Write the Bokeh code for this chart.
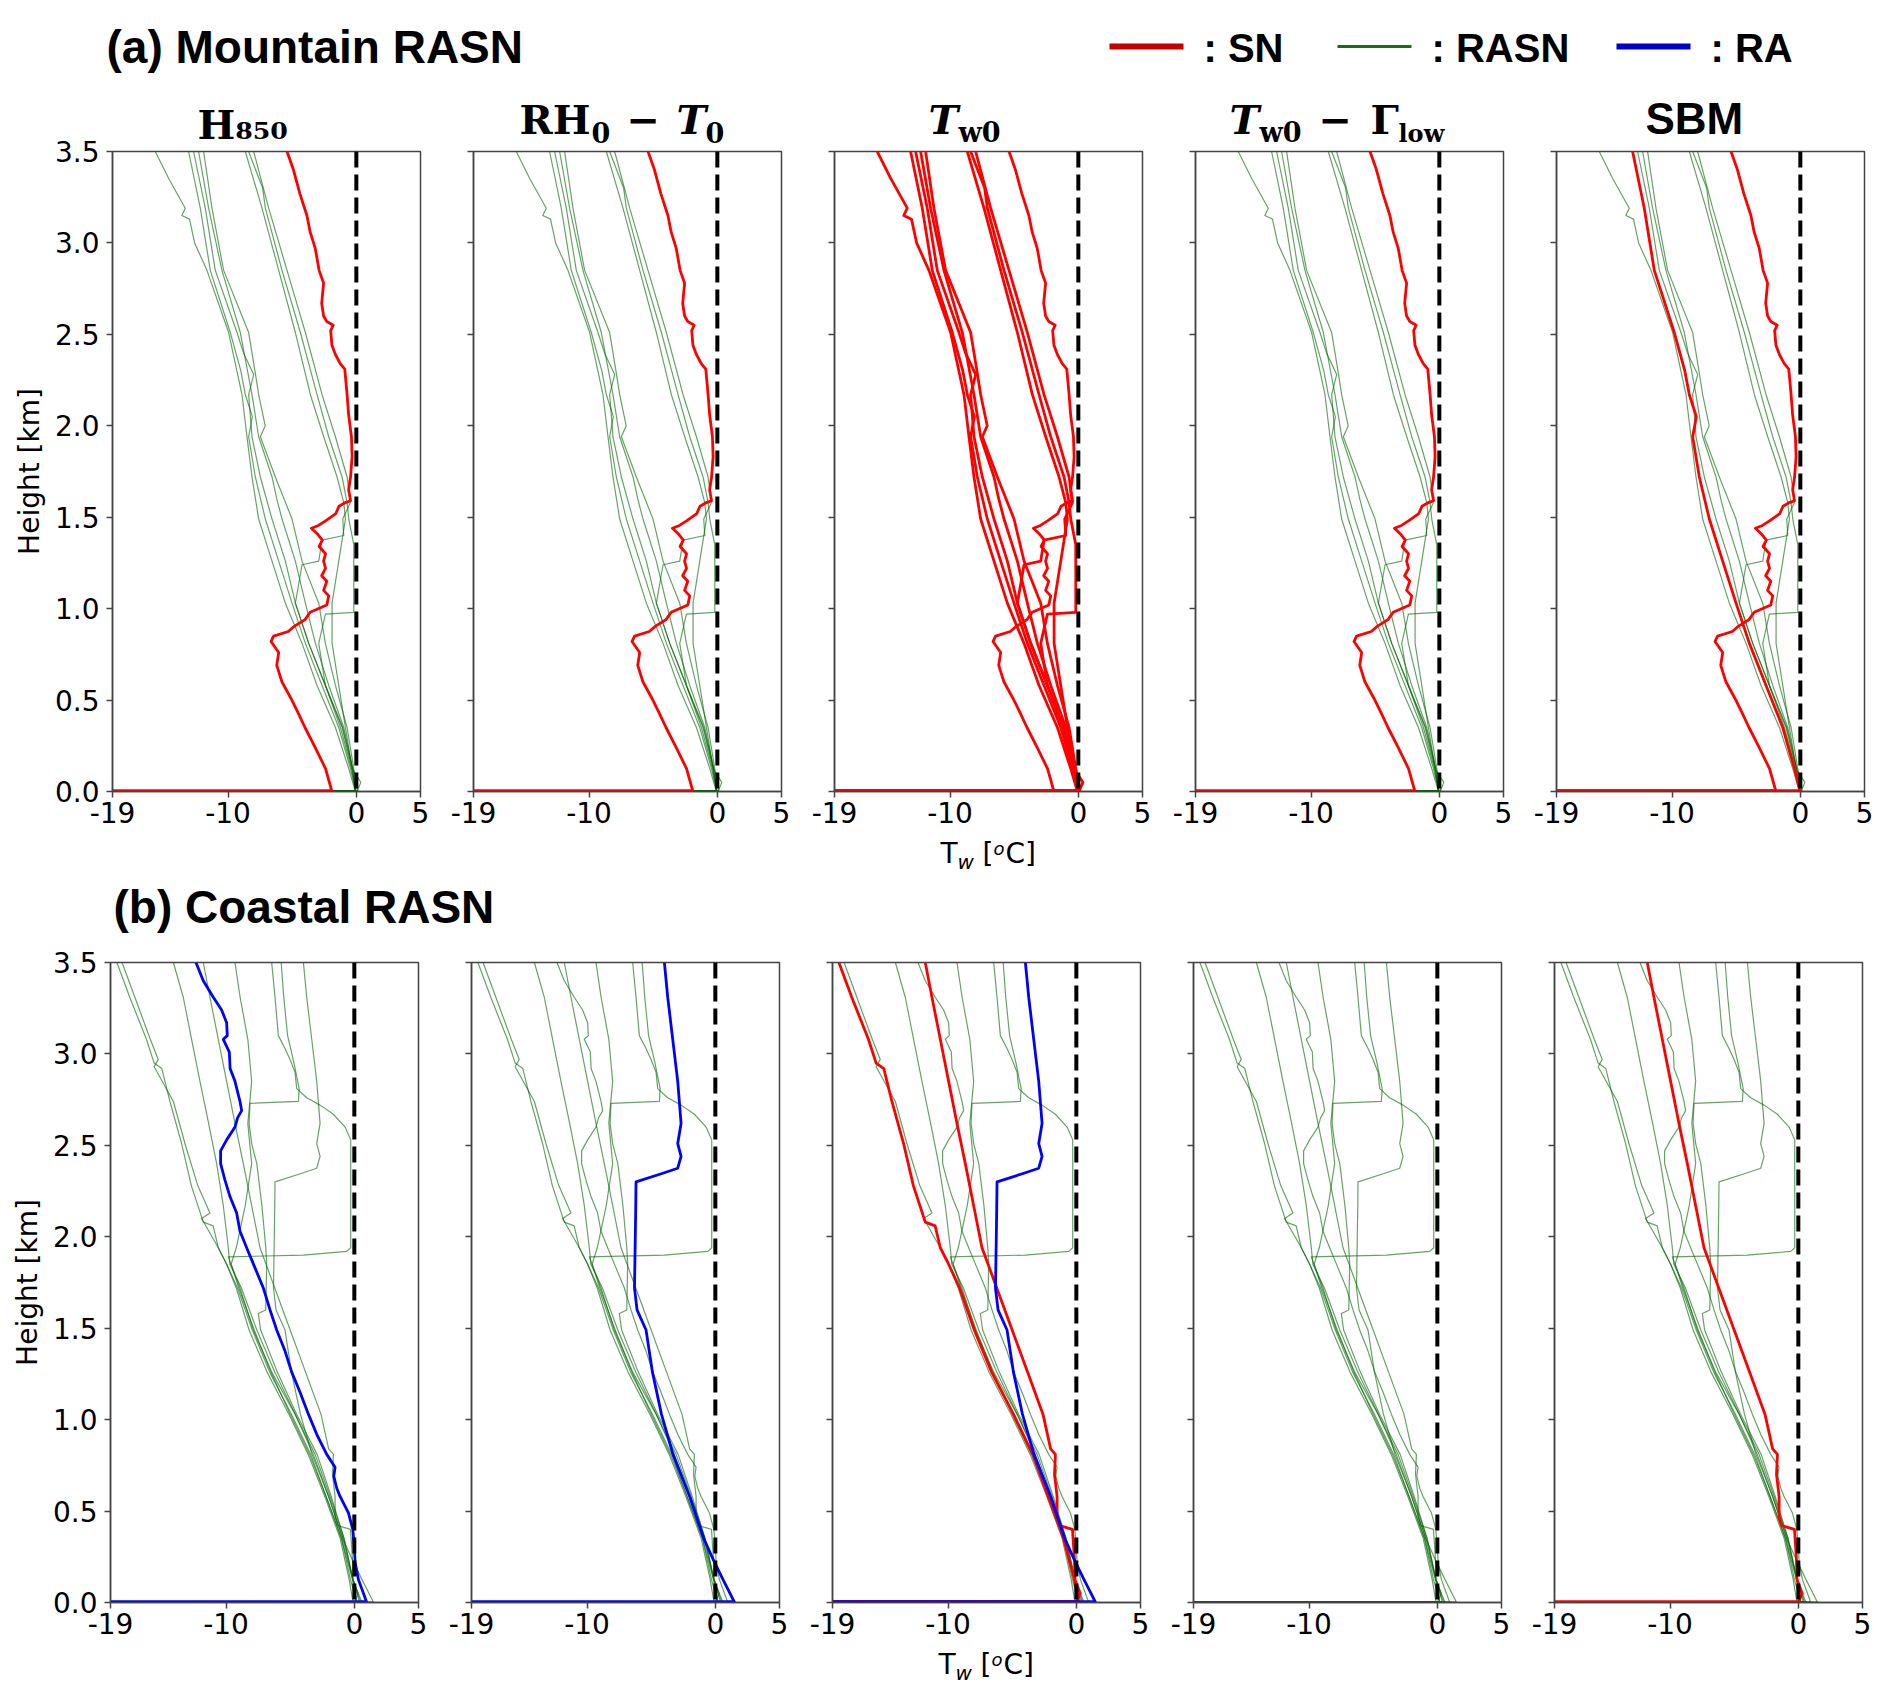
from bokeh.core.properties import value
from bokeh.embed import file_html
from bokeh.layouts import column, row
from bokeh.models import FixedTicker, PrintfTickFormatter, Range1d, Span
from bokeh.plotting import figure
from bokeh.resources import INLINE

# axes
X_LIMITS = (-19, 5)
Y_LIMITS = (0, 3.5)
X_TICKS = [-19, -10, 0, 5]
X_TICK_LABELS = ["-19", "-10", "0", "5"]
Y_TICKS = [0.0, 0.5, 1.0, 1.5, 2.0, 2.5, 3.0, 3.5]
Y_TICK_LABELS = ["0.0", "0.5", "1.0", "1.5", "2.0", "2.5", "3.0", "3.5"]
Y_LABEL = "Height [km]"
FREEZING_LINE = 0

ROW_TITLES = ["(a) Mountain RASN", "(b) Coastal RASN"]
LEGEND_CLASSES = ["SN", "RASN", "RA"]
LEGEND_LABELS = [": SN", ": RASN", ": RA"]
H850_TITLE = "H\u2088\u2085\u2080"

# ---- mountain RASN cases (wet-bulb T in degC, height in km, surface first) ----
MTN_L1_Z = [0, 0.125, 0.35, 0.58, 0.81, 1.03, 1.26, 1.49, 1.72, 1.94, 2.17, 2.51, 2.85, 3.0, 3.13, 3.15, 3.19, 3.35, 3.5]
MTN_L1_T = [-0.07, -0.59, -1.63, -3.06, -4.23, -5.53, -6.57, -7.61, -8.13, -8.52, -8.91, -9.95, -11.64, -12.6, -13.0, -13.6, -13.33, -14.6, -15.67]
MTN_L2_Z = [0, 0.125, 0.35, 0.58, 0.81, 1.03, 1.26, 1.49, 1.72, 1.94, 2.05, 2.17, 2.3, 2.51, 2.85, 3.19, 3.5]
MTN_L2_T = [-0.02, -0.46, -1.37, -2.67, -3.97, -5.01, -6.05, -7.09, -7.87, -8.39, -8.1, -8.65, -9.0, -9.82, -11.38, -12.16, -13.07]
MTN_L3_Z = [0, 0.05, 0.125, 0.35, 0.58, 0.81, 1.03, 1.26, 1.49, 1.72, 1.94, 2.17, 2.28, 2.4, 2.51, 2.85, 3.19, 3.5]
MTN_L3_T = [0.06, 0.35, -0.33, -1.11, -2.41, -3.71, -4.75, -5.53, -6.57, -7.48, -8.13, -8.39, -8.0, -8.8, -9.3, -10.99, -11.77, -12.68]
MTN_L4_Z = [0, 0.125, 0.35, 0.58, 0.81, 1.03, 1.26, 1.49, 1.6, 1.72, 1.94, 2.17, 2.51, 2.85, 3.19, 3.5]
MTN_L4_T = [-0.07, -0.28, -0.98, -2.15, -3.19, -3.97, -4.75, -5.79, -6.2, -6.57, -7.61, -8.13, -9.04, -10.47, -11.51, -12.29]
MTN_L5_Z = [0, 0.125, 0.35, 0.58, 0.81, 1.03, 1.26, 1.49, 1.72, 1.94, 2.0, 2.17, 2.3, 2.51, 2.85, 3.19, 3.5]
MTN_L5_T = [0.13, -0.2, -0.72, -1.63, -2.41, -2.93, -4.23, -5.01, -6.31, -7.48, -7.1, -7.61, -7.9, -8.39, -10.34, -11.25, -11.9]
MTN_R1_Z = [0, 0.125, 0.35, 0.58, 0.81, 1.03, 1.26, 1.49, 1.58, 1.72, 1.94, 2.17, 2.51, 2.85, 3.19, 3.5]
MTN_R1_T = [-0.02, -0.33, -0.85, -1.37, -1.89, -1.89, -1.37, -0.85, -0.98, -1.5, -2.54, -3.58, -4.75, -6.05, -7.35, -8.65]
MTN_R2_Z = [0, 0.125, 0.35, 0.58, 0.81, 0.97, 0.98, 1.35, 1.49, 1.58, 1.72, 1.94, 2.17, 2.51, 2.85, 3.19, 3.3, 3.5]
MTN_R2_T = [-0.07, -0.38, -1.24, -2.41, -2.93, -2.41, -0.2, -0.2, -0.59, -0.72, -1.11, -2.15, -3.06, -4.36, -5.79, -7.09, -7.3, -8.39]
MTN_R3_Z = [0, 0.125, 0.35, 0.58, 0.81, 1.03, 1.24, 1.26, 1.375, 1.40, 1.49, 1.58, 1.72, 1.94, 2.17, 2.51, 2.85, 3.19, 3.5]
MTN_R3_T = [-0.07, -0.28, -1.06, -2.41, -3.71, -4.75, -4.23, -2.93, -2.67, -0.98, -1.06, -0.46, -0.72, -1.63, -2.67, -3.97, -5.4, -6.83, -8.0]
MTN_S_Z = [0, 0.125, 0.24, 0.35, 0.44, 0.51, 0.60, 0.69, 0.76, 0.82, 0.85, 0.875, 0.90, 0.94, 0.98, 1.02, 1.07,
           1.10, 1.15, 1.18, 1.22, 1.26, 1.30, 1.34, 1.375, 1.41, 1.44, 1.455, 1.48, 1.52, 1.56, 1.58, 1.59, 1.65,
           1.72, 1.83, 1.94, 2.06, 2.17, 2.31, 2.34, 2.39, 2.44, 2.52, 2.55, 2.57, 2.60, 2.67, 2.78, 2.85, 2.97,
           3.06, 3.15, 3.27, 3.40, 3.50]
MTN_S_T = [-1.9, -2.4, -3.2, -4.0, -4.6, -5.1, -5.8, -6.2, -6.05, -6.65, -6.45, -5.3, -4.9, -4.0, -3.6, -2.3, -2.15,
           -2.55, -2.3, -2.7, -2.4, -2.55, -2.4, -2.9, -2.65, -3.05, -3.5, -2.95, -2.4, -1.6, -1.35, -0.85, -0.45, -0.6,
           -0.45, -0.33, -0.38, -0.6, -0.72, -0.9, -1.25, -1.63, -1.9, -2.0, -1.8, -2.3, -2.55, -2.7, -2.55, -2.9, -3.2,
           -3.6, -3.85, -4.4, -4.9, -5.4]

MTN_PROFILES = [(MTN_L1_T, MTN_L1_Z), (MTN_L2_T, MTN_L2_Z), (MTN_L3_T, MTN_L3_Z), (MTN_L4_T, MTN_L4_Z),
                (MTN_L5_T, MTN_L5_Z), (MTN_R1_T, MTN_R1_Z), (MTN_R2_T, MTN_R2_Z), (MTN_R3_T, MTN_R3_Z),
                (MTN_S_T, MTN_S_Z)]

# class given by each method (same profile order as above)
MTN_H850 = ["RASN", "RASN", "RASN", "RASN", "RASN", "RASN", "RASN", "RASN", "SN"]
MTN_RH0T0 = ["RASN", "RASN", "RASN", "RASN", "RASN", "RASN", "RASN", "RASN", "SN"]
MTN_TW0 = ["SN", "SN", "SN", "SN", "SN", "SN", "SN", "SN", "SN"]
MTN_TW0GL = ["RASN", "RASN", "RASN", "RASN", "RASN", "RASN", "RASN", "RASN", "SN"]
MTN_SBM = ["RASN", "SN", "RASN", "RASN", "RASN", "RASN", "RASN", "RASN", "SN"]
MTN_CLASSES = [MTN_H850, MTN_RH0T0, MTN_TW0, MTN_TW0GL, MTN_SBM]

# ---- coastal RASN cases ----
CST_C1_Z = [0, 0.125, 0.35, 0.58, 0.81, 1.03, 1.26, 1.49, 1.72, 1.85, 1.94, 2.06, 2.08, 2.28, 2.51, 2.74, 2.92, 2.95, 3.08, 3.31, 3.5]
CST_C1_T = [0.2, -0.15, -1.0, -2.2, -3.4, -4.9, -6.6, -7.95, -9.1, -9.95, -10.6, -11.0, -11.77, -12.7, -13.46, -14.37, -15.0, -15.6, -16.2, -17.5, -18.5]
CST_C2_Z = [0, 0.125, 0.35, 0.58, 0.81, 1.03, 1.26, 1.49, 1.72, 1.85, 1.94, 2.10, 2.13, 2.28, 2.51, 2.74, 2.93, 2.97, 3.08, 3.31, 3.5]
CST_C2_T = [-0.1, -0.4, -1.1, -2.3, -3.6, -5.1, -6.8, -8.2, -9.2, -9.95, -10.6, -11.9, -11.25, -12.2, -13.2, -14.1, -15.6, -15.28, -15.9, -17.1, -18.1]
CST_C3_Z = [0, 0.125, 0.35, 0.58, 0.81, 1.03, 1.26, 1.49, 1.72, 1.85, 1.94, 2.17, 2.4, 2.63, 2.85, 3.08, 3.31, 3.5]
CST_C3_T = [0.5, -0.1, -0.9, -2.0, -3.2, -4.6, -6.2, -7.6, -8.8, -9.7, -9.82, -10.21, -10.73, -11.38, -12.03, -12.68, -13.33, -14.1]
CST_C4_Z = [0, 0.05, 0.125, 0.24, 0.40, 0.42, 0.47, 0.58, 0.70, 0.81, 0.84, 1.03, 1.26, 1.49, 1.72, 1.94, 2.17, 2.4, 2.62, 2.85, 3.08, 3.31, 3.5]
CST_C4_T = [0.0, 0.3, -0.1, -0.15, -0.3, -1.3, -1.5, -1.5, -1.7, -1.63, -2.0, -2.6, -3.8, -5.0, -6.2, -7.35, -8.0, -8.65, -9.3, -9.95, -10.6, -11.25, -11.77]
CST_C5_Z = [0, 0.125, 0.35, 0.58, 0.81, 1.03, 1.26, 1.49, 1.72, 1.85, 1.94, 2.17, 2.4, 2.62, 2.85, 3.08, 3.31, 3.5]
CST_C5_T = [0.2, -0.3, -1.0, -2.2, -3.5, -5.0, -6.5, -7.8, -9.0, -9.6, -9.2, -8.5, -8.0, -8.3, -8.0, -8.3, -8.9, -9.3]
CST_P_Z = [0, 0.125, 0.35, 0.58, 0.81, 1.03, 1.26, 1.49, 1.72, 1.89, 1.90, 1.92, 1.94, 2.53, 2.60, 2.67, 2.72, 2.76, 2.81, 2.90, 2.97, 3.03, 3.10, 3.31, 3.5]
CST_P_T = [0.6, -0.12, -0.8, -1.89, -3.06, -4.62, -6.44, -7.87, -8.91, -9.82, -3.97, -0.59, -0.28, -0.28, -0.72, -1.63, -2.67, -3.71, -4.49, -4.62, -5.01, -5.4, -5.92, -6.18, -6.44]
CST_R_Z = [0, 0.125, 0.35, 0.58, 0.81, 1.03, 1.26, 1.49, 1.58, 1.60, 1.85, 1.94, 2.17, 2.40, 2.51, 2.62, 2.73, 2.74, 2.81, 2.95, 3.10, 3.31, 3.5]
CST_R_T = [0.4, -0.1, -0.8, -1.8, -2.9, -4.5, -6.0, -7.3, -7.48, -6.9, -6.83, -6.9, -7.2, -7.6, -8.0, -8.2, -8.13, -4.36, -4.3, -4.7, -5.2, -5.5, -5.7]
CST_Q_Z = [0, 0.125, 0.24, 0.35, 0.58, 0.81, 1.03, 1.26, 1.49, 1.6, 1.72, 1.94, 2.17, 2.30, 2.35, 2.375, 2.44, 2.51, 2.62, 2.85, 3.08, 3.31, 3.5]
CST_Q_T = [1.5, 0.6, -0.2, -0.9, -2.0, -3.3, -4.2, -4.9, -5.4, -6.1, -6.3, -6.25, -6.2, -6.18, -3.97, -2.93, -2.67, -2.93, -2.67, -2.93, -3.32, -3.71, -3.97]
CST_B_Z = [0, 0.125, 0.22, 0.31, 0.40, 0.49, 0.58, 0.625, 0.69, 0.74, 0.81, 0.92, 1.03, 1.15, 1.26, 1.375, 1.49, 1.60,
           1.72, 1.83, 1.94, 2.03, 2.13, 2.22, 2.31, 2.40, 2.47, 2.53, 2.60, 2.65, 2.69, 2.74, 2.85, 2.92, 3.01, 3.08,
           3.10, 3.17, 3.24, 3.31, 3.40, 3.50]
CST_B_T = [0.97, 0.32, 0.06, 0.0, -0.12, -0.46, -1.11, -1.37, -1.6, -1.5, -2.15, -2.93, -3.58, -4.23, -4.88, -5.4, -6.05,
           -6.57, -7.09, -7.74, -8.39, -8.91, -9.17, -9.69, -10.08, -10.42, -10.42, -9.95, -9.3, -9.1, -8.78, -8.91, -9.3,
           -9.68, -9.74, -10.21, -9.9, -9.95, -10.34, -10.99, -11.77, -12.34]

CST_PROFILES = [(CST_C1_T, CST_C1_Z), (CST_C2_T, CST_C2_Z), (CST_C3_T, CST_C3_Z), (CST_C4_T, CST_C4_Z),
                (CST_C5_T, CST_C5_Z), (CST_P_T, CST_P_Z), (CST_R_T, CST_R_Z), (CST_Q_T, CST_Q_Z),
                (CST_B_T, CST_B_Z)]

CST_H850 = ["RASN", "RASN", "RASN", "RASN", "RASN", "RASN", "RASN", "RASN", "RA"]
CST_RH0T0 = ["RASN", "RASN", "RASN", "RASN", "RASN", "RASN", "RASN", "RA", "RASN"]
CST_TW0 = ["SN", "RASN", "RASN", "SN", "RASN", "RASN", "RASN", "RA", "RASN"]
CST_TW0GL = ["RASN", "RASN", "RASN", "RASN", "RASN", "RASN", "RASN", "RASN", "RASN"]
CST_SBM = ["RASN", "RASN", "RASN", "SN", "RASN", "RASN", "RASN", "RASN", "RASN"]
CST_CLASSES = [CST_H850, CST_RH0T0, CST_TW0, CST_TW0GL, CST_SBM]

# styles
LINE_STYLE = {
    "RASN": dict(line_color="#006400", line_width=1.2, line_alpha=0.6),
    "SN": dict(line_color="#ff0000", line_width=2.8, line_alpha=1.0),
    "RA": dict(line_color="#0000ff", line_width=2.8, line_alpha=1.0),
}
LEGEND_STYLE = {"SN": ("#c40000", 6), "RASN": ("#1b6b1b", 3), "RA": ("#0000c8", 6)}
SPINE = "#444444"
PAGE_W = 1882
SERIF = "DejaVu Serif"


def band(x_left, x_right, y_top, y_bottom):
    # blank strip whose data units are page pixels, for the texts around the panels
    p = figure(width=x_right - x_left, height=y_bottom - y_top, x_range=Range1d(x_left, x_right),
               y_range=Range1d(y_bottom, y_top), x_axis_type=None, y_axis_type=None,
               toolbar_location=None, output_backend="svg", min_border=0)
    p.outline_line_color = None
    return p


def put(p, x, base, txt, size, font="DejaVu Sans", style="normal"):
    # placed by the middle of the em box, given the wanted baseline
    p.text(x=[x], y=[base - 0.346 * size], text=[txt], text_font=value(font),
           text_font_size=value("%dpx" % size), text_font_style=value(style),
           text_align="left", text_baseline="middle", text_color="black")


def xlabel(p, x0, base):
    put(p, x0, base, "T", 28)
    put(p, x0 + 17, base + 5, "w", 20, style="italic")
    put(p, x0 + 42, base, "[", 28)
    put(p, x0 + 53, base - 9, "o", 18, style="italic")
    put(p, x0 + 65, base, "C]", 28)


def make_panel(profiles, classes, border_left, border_right, border_top, first):
    p = figure(frame_width=308, frame_height=640, x_range=Range1d(*X_LIMITS), y_range=Range1d(*Y_LIMITS),
               toolbar_location=None, output_backend="svg", min_border_left=border_left,
               min_border_right=border_right, min_border_top=border_top, min_border_bottom=45)
    p.grid.visible = False
    p.outline_line_color = SPINE
    p.outline_line_width = 1.5

    for ax in (p.xaxis, p.yaxis):
        ax.axis_line_color = SPINE
        ax.axis_line_width = 1.5
        ax.major_tick_line_color = SPINE
        ax.major_tick_line_width = 1.5
        ax.major_tick_in = 0
        ax.major_tick_out = 6
        ax.minor_tick_in = 0
        ax.minor_tick_out = 0
        ax.major_label_text_font = "DejaVu Sans"
        ax.major_label_text_font_size = "28px"
        ax.major_label_text_color = "black"

    p.xaxis.ticker = FixedTicker(ticks=X_TICKS)
    p.xaxis.major_label_overrides = dict(zip(X_TICKS, X_TICK_LABELS))
    p.xaxis.major_label_standoff = 4

    p.yaxis.ticker = FixedTicker(ticks=Y_TICKS)
    p.yaxis.formatter = PrintfTickFormatter(format="%.1f")
    p.yaxis.major_label_standoff = 7
    if first:
        p.yaxis.major_label_overrides = dict(zip(Y_TICKS, Y_TICK_LABELS))
        p.yaxis.axis_label = Y_LABEL
        p.yaxis.axis_label_text_font = "DejaVu Sans"
        p.yaxis.axis_label_text_font_size = "28px"
        p.yaxis.axis_label_text_font_style = "normal"
        p.yaxis.axis_label_text_color = "black"
        p.yaxis.axis_label_standoff = 6
    else:
        p.yaxis.major_label_overrides = {t: "" for t in Y_TICKS}
        p.yaxis.major_label_text_font_size = "0px"

    # green first, then snow, then rain on top
    for cls in ("RASN", "SN", "RA"):
        st = LINE_STYLE[cls]
        for (t, z), c in zip(profiles, classes):
            if c != cls:
                continue
            # the profile is carried to the left edge along the ground
            p.segment(x0=[X_LIMITS[0]], y0=[z[0]], x1=[t[0]], y1=[z[0]], line_color=st["line_color"],
                      line_width=st["line_width"] + 1.5, line_alpha=st["line_alpha"])
            p.line(t, z, line_join="round", **st)

    p.add_layout(Span(location=FREEZING_LINE, dimension="height", line_color="black",
                      line_width=4, line_dash="16 7"))
    return p


# ---- header: row title and legend ----
head = band(0, PAGE_W, 0, 92)
put(head, 106, 62, ROW_TITLES[0], 46, "Liberation Sans", "bold")
for x0, cls, lab in zip([1109, 1337, 1616], LEGEND_CLASSES, LEGEND_LABELS):
    col, w = LEGEND_STYLE[cls]
    head.segment(x0=[x0], y0=[46], x1=[x0 + 74], y1=[46], line_color=col, line_width=w)
    put(head, x0 + 94, 61, lab, 40, "Liberation Sans", "bold")

# ---- row (a): first panel carries its own title, so its tick labels have room ----
a0 = make_panel(MTN_PROFILES, MTN_CLASSES[0], 112, 23, 59, True)
a0.title.text = H850_TITLE
a0.title.text_font = SERIF
a0.title.text_font_size = "40px"
a0.title.text_font_style = "bold"
a0.title.text_color = "black"
a0.title.align = "left"
a0.title.offset = 85
a0.title.standoff = 8

titles = band(443, PAGE_W, 92, 150)
tb, sb = 133, 141
put(titles, 519, tb, "RH", 40, SERIF, "bold")
put(titles, 591, sb, "0", 27, SERIF, "bold")
put(titles, 626, tb, "\u2212", 40, SERIF, "bold")
put(titles, 676, tb, "T", 40, SERIF, "bold italic")
put(titles, 705, sb, "0", 27, SERIF, "bold")
put(titles, 928, tb, "T", 40, SERIF, "bold italic")
put(titles, 958, sb, "w0", 27, SERIF, "bold")
put(titles, 1229, tb, "T", 40, SERIF, "bold italic")
put(titles, 1259, sb, "w0", 27, SERIF, "bold")
put(titles, 1318, tb, "\u2212", 40, SERIF, "bold")
put(titles, 1370, tb, "\u0393", 40, SERIF, "bold")
put(titles, 1398, sb, "low", 24, SERIF, "bold")
put(titles, 1645, tb, "SBM", 44, "Liberation Sans", "bold")

a_rest = [make_panel(MTN_PROFILES, cls, 30, br, 1, False)
          for cls, br in zip(MTN_CLASSES[1:], [23, 23, 23, 18])]
top_row = row(a0, column(titles, row(a_rest)))

mid = band(0, PAGE_W, 836, 945)
xlabel(mid, 940, 863)
put(mid, 113, 922, ROW_TITLES[1], 46, "Liberation Sans", "bold")

# ---- row (b) ----
bot_borders = [(110, 23), (30, 23), (30, 23), (30, 23), (30, 20)]
bot_row = row([make_panel(CST_PROFILES, cls, bl, br, 17, i == 0)
               for i, (cls, (bl, br)) in enumerate(zip(CST_CLASSES, bot_borders))])

foot = band(0, PAGE_W, 1647, 1690)
xlabel(foot, 938, 1674)

layout = column(head, top_row, mid, bot_row, foot)
open("out.html", "w").write(file_html(layout, INLINE))
